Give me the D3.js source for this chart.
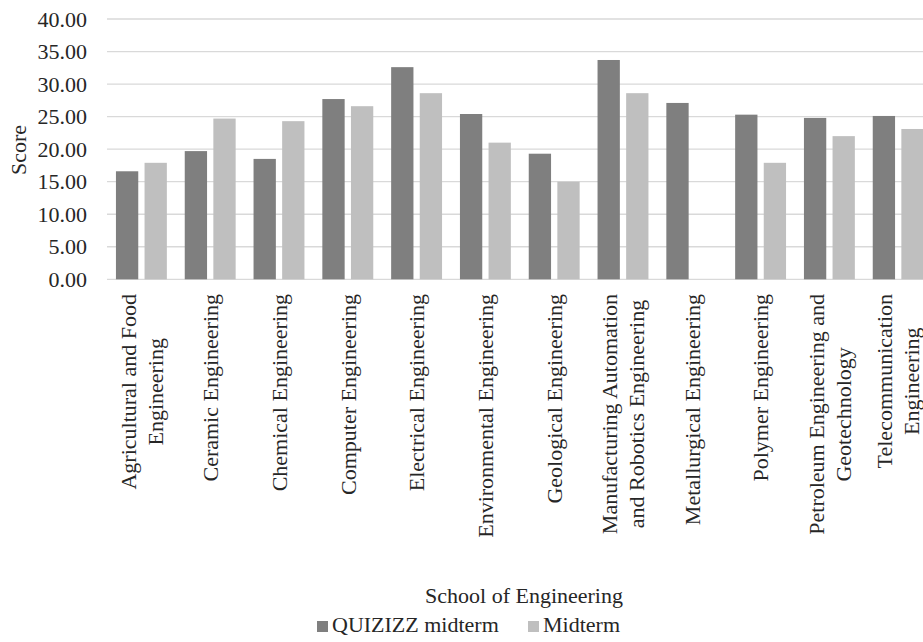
<!DOCTYPE html>
<html>
<head>
<meta charset="utf-8">
<script src="https://cdn.jsdelivr.net/npm/d3@7"></script>
<style>
  html, body { margin: 0; padding: 0; background: #fff; }
  svg { display: block; }
</style>
</head>
<body>
<script>
const categories = [
  ["Agricultural and Food", "Engineering"],
  ["Ceramic Engineering"],
  ["Chemical Engineering"],
  ["Computer Engineering"],
  ["Electrical Engineering"],
  ["Environmental Engineering"],
  ["Geological Engineering"],
  ["Manufacturing Automation", "and Robotics Engineering"],
  ["Metallurgical Engineering"],
  ["Polymer Engineering"],
  ["Petroleum Engineering and", "Geotechnology"],
  ["Telecommunication", "Engineering"],
];
const seriesNames = ["QUIZIZZ midterm", "Midterm"];
const quizizz = [16.6, 19.7, 18.5, 27.7, 32.6, 25.4, 19.3, 33.7, 27.1, 25.3, 24.8, 25.1];
const midterm = [17.9, 24.7, 24.3, 26.6, 28.6, 21.0, 15.0, 28.6, null, 17.9, 22.0, 23.1];
const yTicks = [0, 5, 10, 15, 20, 25, 30, 35, 40];
const colors = ["#7f7f7f", "#bfbfbf"];

const width = 923;
const height = 642;
const plotLeft = 107;
const plotRight = 932.6;
const plotTop = 19;
const plotBottom = 279.3;
const fontSize = 22;
const font = "'Liberation Serif', 'DejaVu Serif', 'Noto Serif', serif";
const textColor = "#262626";

const svg = d3
  .select("body")
  .append("svg")
  .attr("width", width)
  .attr("height", height)
  .style("font-family", font);

const xScale = d3
  .scaleBand()
  .domain(d3.range(categories.length))
  .range([plotLeft, plotRight])
  .paddingInner(0.26)
  .paddingOuter(0.13);

const xInner = d3
  .scaleBand()
  .domain(seriesNames)
  .range([0, xScale.bandwidth()])
  .paddingInner(0.22);

const yScale = d3.scaleLinear().domain([0, 40]).range([plotBottom, plotTop]);

// gridlines
svg
  .append("g")
  .selectAll("line")
  .data(yTicks)
  .enter()
  .append("line")
  .attr("x1", plotLeft)
  .attr("x2", plotRight)
  .attr("y1", (d) => yScale(d))
  .attr("y2", (d) => yScale(d))
  .attr("stroke", "#d9d9d9")
  .attr("stroke-width", 1.3);

// y axis labels
const yAxis = d3
  .axisLeft(yScale)
  .tickValues(yTicks)
  .tickFormat(d3.format(".2f"))
  .tickSize(0)
  .tickPadding(20);

const yAxisGroup = svg
  .append("g")
  .attr("transform", `translate(${plotLeft} 0)`)
  .call(yAxis)
  .attr("font-family", font)
  .attr("font-size", fontSize);
yAxisGroup.select(".domain").remove();
yAxisGroup.selectAll("text").attr("fill", textColor);

// bars
const rows = categories.map((c, i) => [quizizz[i], midterm[i]]);

const groups = svg
  .append("g")
  .selectAll("g")
  .data(rows)
  .enter()
  .append("g")
  .attr("transform", (d, i) => `translate(${xScale(i)} 0)`);

groups
  .selectAll("rect")
  .data((d) => d.map((v, j) => ({ v, s: seriesNames[j], j })).filter((e) => e.v != null))
  .enter()
  .append("rect")
  .attr("x", (d) => xInner(d.s))
  .attr("width", xInner.bandwidth())
  .attr("y", (d) => yScale(d.v))
  .attr("height", (d) => yScale(0) - yScale(d.v))
  .attr("fill", (d) => colors[d.j]);

// category labels (rotated, lines centered, block hung under the axis)
const labelTop = 294;
const lineHeight = 27;

categories.forEach((lines, i) => {
  const cx = xScale(i) + xScale.bandwidth() / 2;
  const g = svg.append("g");
  const texts = lines.map((line) =>
    g
      .append("text")
      .attr("font-size", fontSize)
      .attr("fill", textColor)
      .attr("text-anchor", "middle")
      .text(line)
  );
  const maxLen = d3.max(texts, (t) => t.node().getComputedTextLength());
  const offset0 = -((lines.length - 1) * lineHeight) / 2;
  texts.forEach((t, k) => {
    t.attr(
      "transform",
      `translate(${cx + offset0 + k * lineHeight} ${labelTop + maxLen / 2}) rotate(-90)`
    ).attr("dy", "0.35em");
  });
});

// axis titles
svg
  .append("text")
  .attr("font-size", fontSize)
  .attr("fill", textColor)
  .attr("text-anchor", "middle")
  .attr("transform", "translate(18 150) rotate(-90)")
  .attr("dy", "0.35em")
  .text("Score");

svg
  .append("text")
  .attr("font-size", fontSize)
  .attr("fill", textColor)
  .attr("text-anchor", "middle")
  .attr("x", 524)
  .attr("y", 603)
  .text("School of Engineering");

// legend
const legendItems = [
  { name: seriesNames[0], x: 317 },
  { name: seriesNames[1], x: 528 },
];

const legend = svg
  .append("g")
  .selectAll("g")
  .data(legendItems)
  .enter()
  .append("g")
  .attr("transform", (d) => `translate(${d.x} 621)`);

legend
  .append("rect")
  .attr("width", 11)
  .attr("height", 11)
  .attr("fill", (d, i) => colors[i]);

legend
  .append("text")
  .attr("font-size", fontSize)
  .attr("fill", textColor)
  .attr("x", 15)
  .attr("y", 11)
  .text((d) => d.name);
</script>
</body>
</html>
